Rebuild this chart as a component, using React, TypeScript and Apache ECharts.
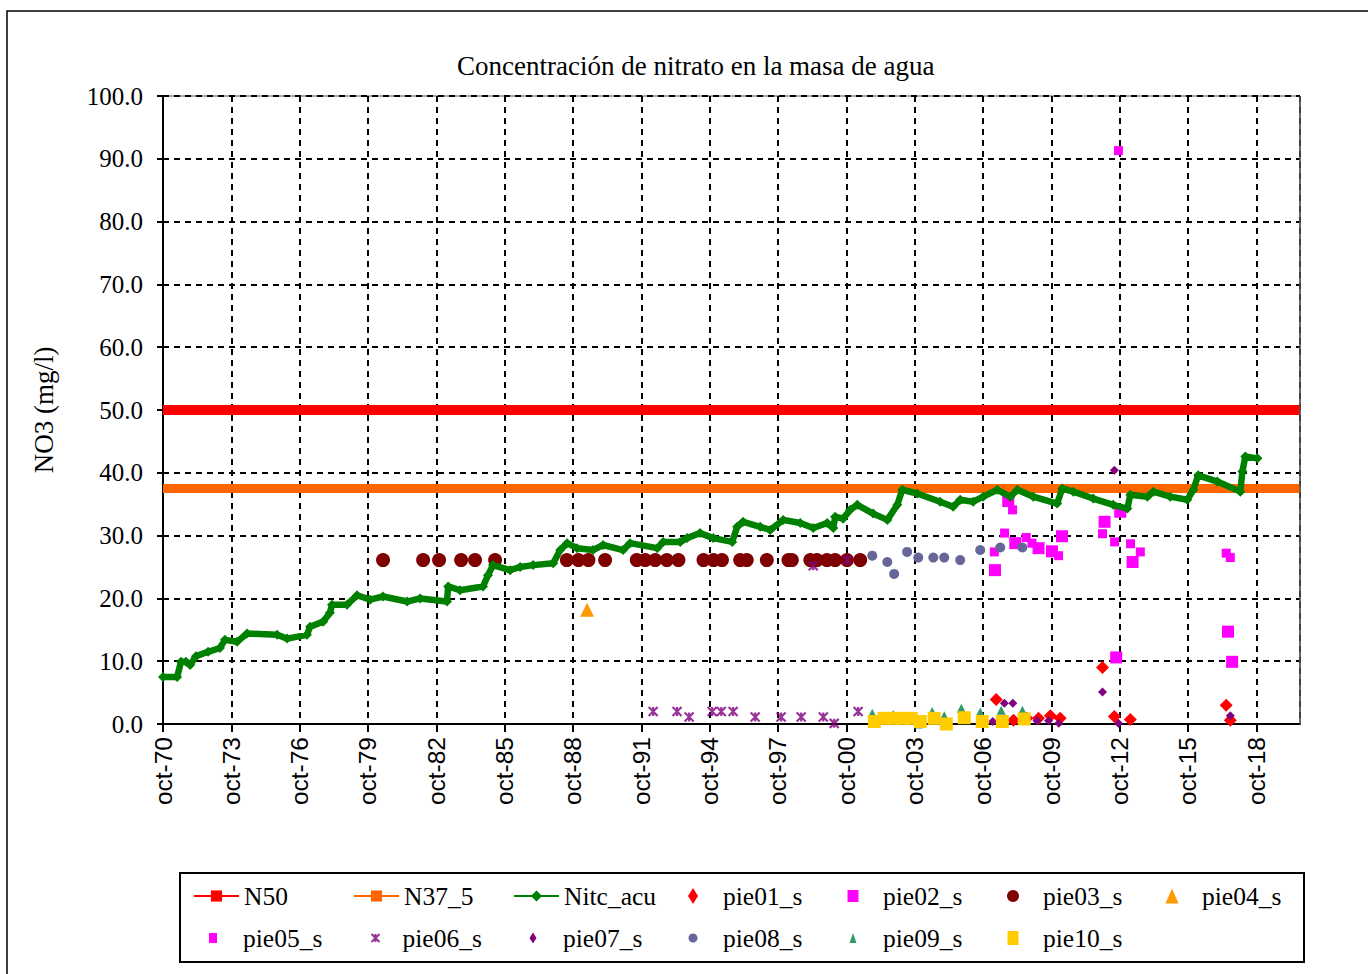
import React, { useEffect, useRef } from "react";
import * as echarts from "echarts";

// X positions are decimal years; values are NO3 in mg/l
const START_YEAR = 1970.75; // oct-70
const END_YEAR = 2020.67;

const nitcYears = [1970.75, 1971.37, 1971.54, 1971.76, 1971.94, 1972.2, 1972.73, 1973.25, 1973.47, 1974.0, 1974.44, 1975.76, 1976.2, 1977.07, 1977.21, 1977.78, 1978.08, 1978.17, 1978.83, 1979.27, 1979.84, 1980.41, 1981.47, 1982.04, 1983.22, 1983.27, 1983.79, 1984.8, 1985.02, 1985.24, 1985.99, 1986.43, 1987.0, 1987.88, 1988.19, 1988.49, 1988.93, 1989.63, 1990.07, 1990.95, 1991.26, 1992.45, 1992.71, 1993.46, 1993.76, 1994.33, 1994.91, 1995.74, 1995.96, 1996.22, 1996.97, 1997.41, 1997.98, 1998.73, 1999.3, 1999.91, 2000.18, 2000.26, 2000.61, 2000.92, 2001.23, 2001.93, 2002.55, 2002.99, 2003.21, 2003.86, 2004.87, 2005.44, 2005.75, 2006.32, 2006.76, 2007.38, 2007.95, 2008.26, 2008.96, 2010.01, 2010.23, 2010.72, 2011.59, 2012.47, 2013.09, 2013.22, 2013.97, 2014.23, 2014.97, 2015.72, 2015.99, 2016.2, 2017.04, 2018.05, 2018.14, 2018.27, 2018.8];
const nitcValues = [7.5, 7.5, 9.9, 9.9, 9.4, 10.8, 11.5, 12.1, 13.4, 13.1, 14.4, 14.2, 13.6, 14.2, 15.5, 16.3, 17.7, 19.0, 19.0, 20.5, 19.8, 20.3, 19.5, 20.0, 19.5, 21.9, 21.3, 21.9, 23.7, 25.3, 24.5, 25.0, 25.3, 25.6, 27.7, 28.8, 28.0, 27.7, 28.5, 27.7, 28.8, 28.0, 29.0, 29.0, 29.6, 30.4, 29.6, 29.0, 31.4, 32.2, 31.4, 30.9, 32.5, 32.0, 31.2, 32.0, 31.2, 33.0, 32.7, 34.1, 34.9, 33.5, 32.5, 34.9, 37.3, 36.7, 35.4, 34.6, 35.7, 35.4, 36.2, 37.3, 36.2, 37.3, 36.2, 35.1, 37.5, 37.0, 35.9, 34.9, 34.3, 36.5, 36.2, 37.0, 36.2, 35.7, 37.3, 39.6, 38.6, 37.0, 40.2, 42.6, 42.3];

const pie01Years = [2007.33, 2008.09, 2008.68, 2009.19, 2009.71, 2010.14, 2012.0, 2012.52, 2013.22, 2017.43, 2017.61];
const pie01Values = [3.9, 0.6, 0.9, 0.9, 1.3, 0.9, 9.0, 1.2, 0.7, 3.0, 0.6];

const pie02Years = [2007.86, 2007.28, 2008.17, 2009.19, 2009.78, 2010.22, 2012.09, 2012.78, 2013.32, 2012.6, 2017.51, 2017.69];
const pie02Values = [35.5, 24.5, 28.8, 28.0, 27.5, 29.9, 32.2, 33.8, 25.8, 10.6, 14.7, 9.9];

const pie03Years = [1980.41, 1982.17, 1982.87, 1983.84, 1984.45, 1985.33, 1988.48, 1988.99, 1989.43, 1990.16, 1991.55, 1991.92, 1992.36, 1992.87, 1993.38, 1994.48, 1994.92, 1995.29, 1996.09, 1996.38, 1997.26, 1998.21, 1998.36, 1999.17, 1999.46, 1999.9, 2000.26, 2000.78, 2001.36];
const pie03Values = [26.1, 26.1, 26.1, 26.1, 26.1, 26.1, 26.1, 26.1, 26.1, 26.1, 26.1, 26.1, 26.1, 26.1, 26.1, 26.1, 26.1, 26.1, 26.1, 26.1, 26.1, 26.1, 26.1, 26.1, 26.1, 26.1, 26.1, 26.1, 26.1];

const pie04Years = [1989.37];
const pie04Values = [18.2];

const pie05Years = [2008.05, 2007.7, 2007.25, 2008.65, 2008.9, 2010.07, 2012.0, 2012.53, 2013.23, 2013.66, 2017.43, 2017.61, 2012.7];
const pie05Values = [34.1, 30.4, 27.4, 29.7, 28.8, 26.8, 30.3, 29.0, 28.7, 27.4, 27.2, 26.5, 91.3];

const pie06Years = [1992.27, 1993.32, 1993.85, 1994.86, 1995.26, 1995.78, 1996.75, 1997.89, 1998.77, 1999.3, 1999.74, 2000.22, 2000.79, 2001.27];
const pie06Values = [2.0, 2.0, 1.1, 2.0, 2.0, 2.0, 1.1, 1.1, 1.1, 25.2, 1.1, 0.1, 26.1, 2.0];

const pie07Years = [2007.18, 2007.69, 2008.06, 2009.12, 2009.63, 2010.08, 2012.0, 2012.52, 2012.7, 2017.61];
const pie07Values = [0.4, 3.3, 3.3, 0.5, 0.5, 0.1, 5.1, 40.4, 0.1, 1.3];

const pie08Years = [2001.89, 2002.55, 2002.85, 2003.42, 2003.91, 2004.57, 2005.05, 2005.75, 2006.63, 2007.51, 2008.48];
const pie08Values = [26.8, 25.8, 23.9, 27.4, 26.5, 26.5, 26.5, 26.1, 27.7, 28.1, 28.1];

const pie09Years = [2001.89, 2002.81, 2003.91, 2004.52, 2005.05, 2005.8, 2006.63, 2007.55, 2008.48];
const pie09Values = [1.7, 1.5, 0.0, 2.0, 1.3, 2.5, 1.9, 2.2, 2.2];

const pie10Years = [2001.98, 2002.41, 2002.81, 2003.21, 2003.6, 2004.0, 2004.61, 2005.14, 2005.93, 2006.72, 2007.6, 2008.56];
const pie10Values = [0.4, 0.9, 0.9, 0.9, 0.9, 0.4, 0.9, 0.0, 1.0, 0.4, 0.4, 0.8];

const limitN50 = 50;
const limitN37 = 37.5;

const TITLE = "Concentración de nitrato en la masa de agua";
const Y_NAME = "NO3 (mg/l)";

const SERIF = "'Liberation Serif', 'DejaVu Serif', serif";
const SANS = "'Liberation Sans', Arial, sans-serif";

const pts = (xs: number[], ys: number[]) => xs.map((x, i) => [x - START_YEAR, ys[i]]);

const ASTERISK = "path://M0,0L10,10M10,0L0,10M5,0L5,10";

export default function App() {
  const ref = useRef<HTMLDivElement>(null);
  useEffect(() => {
    if (!ref.current) return;
    const chart = echarts.init(ref.current, null, { renderer: "svg" });

    const scatter = (name: string, xs: number[], ys: number[], symbol: string, size: number, color: string) => ({
      name,
      type: "scatter",
      data: pts(xs, ys),
      symbol,
      symbolSize: size,
      itemStyle: { color, opacity: 1 },
    });

    const series: any[] = [
      {
        name: "N50",
        type: "line",
        data: [[0, limitN50], [END_YEAR - START_YEAR, limitN50]],
        symbol: "rect",
        symbolSize: 8,
        showSymbol: false,
        lineStyle: { color: "#ff0000", width: 10 },
        itemStyle: { color: "#ff0000" },
      },
      {
        name: "N37_5",
        type: "line",
        data: [[0, limitN37], [END_YEAR - START_YEAR, limitN37]],
        symbol: "rect",
        symbolSize: 8,
        showSymbol: false,
        lineStyle: { color: "#ff6600", width: 9 },
        itemStyle: { color: "#ff6600" },
      },
      {
        name: "Nitc_acu",
        type: "line",
        data: pts(nitcYears, nitcValues),
        symbol: "diamond",
        symbolSize: 10,
        showSymbol: true,
        showAllSymbol: true,
        lineStyle: { color: "#008000", width: 6.5 },
        itemStyle: { color: "#008000" },
      },
      scatter("pie01_s", pie01Years, pie01Values, "diamond", 13, "#ff0000"),
      scatter("pie02_s", pie02Years, pie02Values, "rect", 12, "#ff00ff"),
      scatter("pie03_s", pie03Years, pie03Values, "circle", 14, "#800000"),
      scatter("pie04_s", pie04Years, pie04Values, "triangle", 14, "#ff9900"),
      scatter("pie05_s", pie05Years, pie05Values, "rect", 9, "#ff00ff"),
      {
        name: "pie06_s",
        type: "scatter",
        data: pts(pie06Years, pie06Values),
        symbol: ASTERISK,
        symbolSize: [9, 9],
        itemStyle: { color: "none", borderColor: "#800080", borderWidth: 2.2 },
      },
      scatter("pie07_s", pie07Years, pie07Values, "diamond", 9, "#800080"),
      scatter("pie08_s", pie08Years, pie08Values, "circle", 10, "#666699"),
      scatter("pie09_s", pie09Years, pie09Values, "triangle", 9, "#339966"),
      scatter("pie10_s", pie10Years, pie10Values, "rect", 13, "#ffcc00"),
    ];

    // legend layout: text start x, row, icon box (w,h); line entries use a 45px icon
    const legendItems = [
      { name: "N50", textX: 243, row: 0, line: true, w: 45, h: 14, adj: 0 },
      { name: "N37_5", textX: 403, row: 0, line: true, w: 45, h: 14, adj: 0 },
      { name: "Nitc_acu", textX: 563, row: 0, line: true, w: 45, h: 14, adj: 0 },
      { name: "pie01_s", textX: 723, row: 0, line: false, w: 10, h: 16, adj: 0 },
      { name: "pie02_s", textX: 883, row: 0, line: false, w: 11, h: 12, adj: 0 },
      { name: "pie03_s", textX: 1043, row: 0, line: false, w: 12, h: 12, adj: 0 },
      { name: "pie04_s", textX: 1202, row: 0, line: false, w: 13, h: 15, adj: 0 },
      { name: "pie05_s", textX: 243, row: 1, line: false, w: 8, h: 10, adj: 0 },
      { name: "pie06_s", textX: 403, row: 1, line: false, w: 8, h: 10, adj: -3 },
      { name: "pie07_s", textX: 563, row: 1, line: false, w: 7, h: 11, adj: 0 },
      { name: "pie08_s", textX: 723, row: 1, line: false, w: 9, h: 9, adj: 0 },
      { name: "pie09_s", textX: 883, row: 1, line: false, w: 7, h: 10, adj: 0 },
      { name: "pie10_s", textX: 1043, row: 1, line: false, w: 11, h: 14, adj: 0 },
    ];

    const legends = legendItems.map((it) => {
      const left = it.line ? it.textX - 50 : it.textX - 30 - it.w / 2;
      const pad = it.line ? 0 : 25 - it.w / 2 + it.adj;
      return {
        data: [it.name],
        left,
        top: it.row === 0 ? 882 : 924,
        itemWidth: it.w,
        itemHeight: it.h,
        itemGap: 0,
        padding: 0,
        selectedMode: false,
        lineStyle: { width: 2 },
        textStyle: { fontFamily: SERIF, fontSize: 25.5, color: "#000", lineHeight: 28, padding: [0, 0, 0, pad] },
      };
    });

    const dashed = { show: true, lineStyle: { color: "#000", width: 2, type: [6, 5] } };

    chart.setOption({
      animation: false,
      backgroundColor: "#fff",
      title: {
        text: TITLE,
        left: 452,
        top: 47,
        textStyle: { fontFamily: SERIF, fontSize: 27, fontWeight: "normal", color: "#000" },
      },
      legend: legends,
      grid: { left: 163, right: 68, top: 96, bottom: 250, show: true, borderColor: "#555", borderWidth: 1 },
      xAxis: {
        type: "value",
        min: 0,
        max: END_YEAR - START_YEAR,
        interval: 3,
        axisLine: { show: true, onZero: false, lineStyle: { color: "#000", width: 2 } },
        axisTick: { show: true, length: 8, lineStyle: { color: "#000", width: 2 } },
        splitLine: dashed,
        axisLabel: {
          rotate: 90,
          margin: 13,
          fontFamily: SANS,
          fontSize: 24.5,
          color: "#000",
          showMaxLabel: false,
          formatter: (v: number) => {
            const k = Math.round(v);
            if (Math.abs(v - k) > 1e-6 || k % 3 !== 0) return "";
            return "oct-" + String((70 + k) % 100).padStart(2, "0");
          },
        },
      },
      yAxis: {
        type: "value",
        min: 0,
        max: 100,
        interval: 10,
        name: Y_NAME,
        nameLocation: "middle",
        nameRotate: 90,
        nameGap: 106,
        nameTextStyle: { fontFamily: SERIF, fontSize: 27, color: "#000" },
        axisLine: { show: true, lineStyle: { color: "#000", width: 2 } },
        axisTick: { show: true, length: 6, lineStyle: { color: "#000", width: 2 } },
        splitLine: dashed,
        axisLabel: {
          margin: 20,
          fontFamily: SERIF,
          fontSize: 25,
          color: "#000",
          formatter: (v: number) => v.toFixed(1),
        },
      },
      graphic: [
        { type: "rect", shape: { x: 7, y: 11, width: 1400, height: 1000 }, style: { fill: "none", stroke: "#000", lineWidth: 1.5 }, silent: true },
        { type: "rect", shape: { x: 180, y: 873, width: 1124, height: 89 }, style: { fill: "none", stroke: "#000", lineWidth: 2 }, silent: true },
        { type: "line", z: 100, shape: { x1: 1300, y1: 96, x2: 1300, y2: 724 }, style: { stroke: "#555", lineWidth: 1.5 }, silent: true },
      ],
      series,
    });

    return () => chart.dispose();
  }, []);

  return <div ref={ref} style={{ position: "absolute", left: 0, top: 0, width: 1368, height: 974 }} />;
}
